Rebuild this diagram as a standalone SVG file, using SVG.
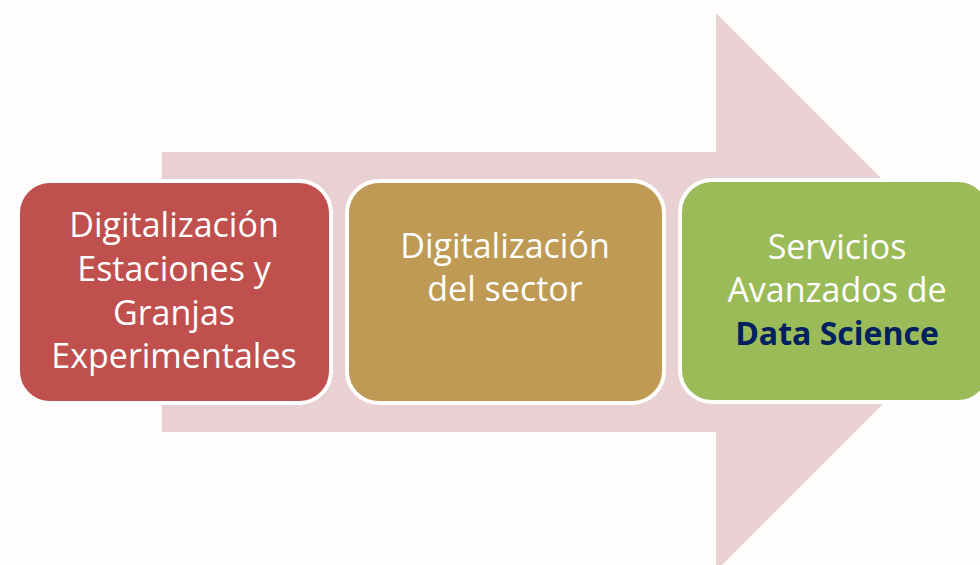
<svg xmlns="http://www.w3.org/2000/svg" width="980" height="565" viewBox="0 0 980 565">
<style>
.box{stroke:#ffffff;stroke-width:4}
.t{font-family:"Open Sans","Liberation Sans",sans-serif;font-size:34px;fill:#ffffff;text-anchor:middle}
.b{font-weight:bold;fill:#002060;font-size:32px}
</style>
<rect width="980" height="565" fill="#FFFDFC"/>
<g id="arrow">
<polygon points="162,152 716,152 716,13 995,292 716,571 716,432 162,432" fill="#E8D0D3"/>
</g>
<g id="node1">
<rect class="box" x="18" y="181" width="313" height="222" rx="32" fill="#C0504D"/>
<text class="t" x="174" y="237">Digitalización</text>
<text class="t" x="174" y="281">Estaciones y</text>
<text class="t" x="174" y="325">Granjas</text>
<text class="t" x="174" y="368">Experimentales</text>
</g>
<g id="node2">
<rect class="box" x="347" y="181" width="317" height="222" rx="32" fill="#BE9A54"/>
<text class="t" x="505" y="258">Digitalización</text>
<text class="t" x="505" y="301">del sector</text>
</g>
<g id="node3">
<rect class="box" x="680" y="180" width="310" height="222" rx="32" fill="#9BBB59"/>
<text class="t" x="837" y="259">Servicios</text>
<text class="t" x="837" y="302">Avanzados de</text>
<text class="t b" x="837" y="345">Data Science</text>
</g>
<g id="connectors"/>
</svg>
